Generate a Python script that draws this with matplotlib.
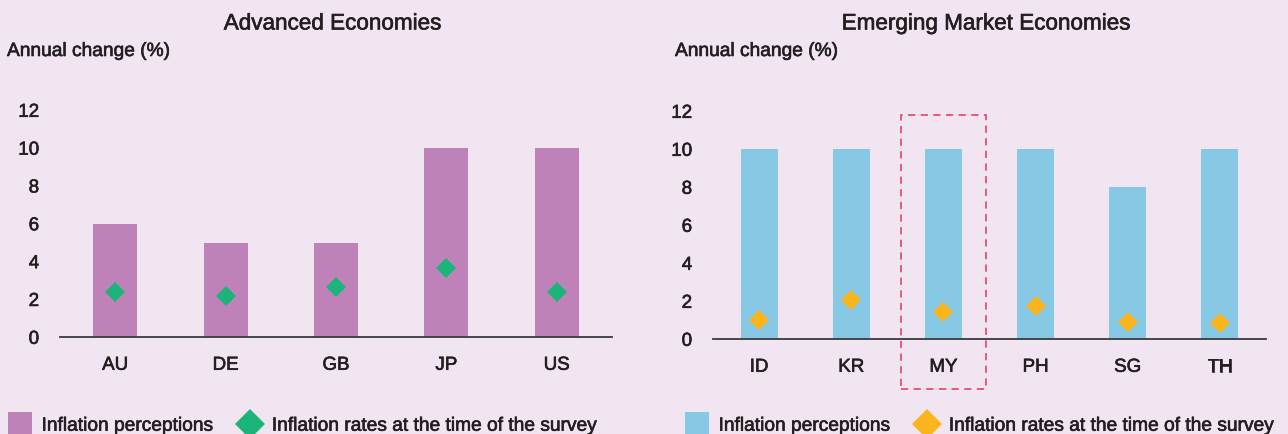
import matplotlib
matplotlib.use("Agg")
import matplotlib.pyplot as plt
from matplotlib.lines import Line2D
from matplotlib.patches import Rectangle
import matplotlib.patheffects as pe

plt.rcParams['font.family'] = ['Liberation Sans', 'DejaVu Sans']

# ---- data ----
adv_countries = ["AU", "DE", "GB", "JP", "US"]
adv_perceptions = [6, 5, 5, 10, 10]
adv_rates = [2.4, 2.2, 2.65, 3.65, 2.4]

em_countries = ["ID", "KR", "MY", "PH", "SG", "TH"]
em_perceptions = [10, 10, 10, 10, 8, 10]
em_rates = [1.0, 2.05, 1.45, 1.75, 0.9, 0.85]

yticks = [0, 2, 4, 6, 8, 10, 12]
highlight = "MY"

BG = '#F2E5F2'
PURPLE = '#BE82B9'
GREEN = '#1DB47A'
BLUE = '#87C8E5'
YELLOW = '#FBB61E'
RED = '#E8506A'
TXT = '#231F20'

FX = [pe.withStroke(linewidth=0.45, foreground=TXT)]

W, H = 1288, 434
fig = plt.figure(figsize=(W / 100, H / 100), dpi=100, facecolor=BG)

def make_panel(rect, cats, bars, rates, bar_color, mk_color, title, label_x, legend_x):
    ax = fig.add_axes(rect)
    ax.set_facecolor(BG)
    x = list(range(len(cats)))
    ax.bar(x, bars, width=0.4, color=bar_color, zorder=2)
    ax.plot(x, rates, linestyle='none', marker='D', markersize=10,
            color=mk_color, markeredgewidth=0, zorder=3)
    ax.set_xlim(-0.5, len(cats) - 0.5)
    ax.set_ylim(0, 12)
    ax.set_yticks(yticks)
    ax.set_xticks(x)
    ax.set_xticklabels(cats)
    for s in ['top', 'right', 'left']:
        ax.spines[s].set_visible(False)
    ax.spines['bottom'].set_color('#3a3a3a')
    ax.spines['bottom'].set_linewidth(1.3)
    ax.spines['bottom'].set_zorder(4)
    ax.tick_params(axis='both', length=0, labelsize=13.5, colors=TXT)
    ax.tick_params(axis='y', pad=15)
    ax.tick_params(axis='x', pad=14)
    for t in ax.get_xticklabels() + ax.get_yticklabels():
        t.set_path_effects(FX)
    # titles
    l, b, w, h = rect
    fig.text(l + w / 2 - 3 / W, 1 - 24 / H, title, ha='center', va='center',
             fontsize=16.2, color=TXT, path_effects=FX)
    fig.text(label_x / W, 1 - 51.5 / H, "Annual change (%)", ha='left',
             va='center', fontsize=13.8, color=TXT, path_effects=FX)
    handles = [
        Line2D([], [], linestyle='none', marker='s', markersize=17,
               color=bar_color, markeredgewidth=0),
        Line2D([], [], linestyle='none', marker='D', markersize=15,
               color=mk_color, markeredgewidth=0),
    ]
    leg = fig.legend(handles, ["Inflation perceptions", "Inflation rates at the time of the survey"],
                     loc='center left', bbox_to_anchor=(legend_x / W, 1 - 426 / H),
                     ncol=2, frameon=False, fontsize=13.8, handlelength=1.2,
                     handletextpad=0.55, columnspacing=1.35, borderpad=0,
                     borderaxespad=0, labelcolor=TXT)
    for t in leg.get_texts():
        t.set_path_effects(FX)
    return ax

ax1 = make_panel([60 / W, 1 - 337.3 / H, 552 / W, 227 / H], adv_countries,
                 adv_perceptions, adv_rates, PURPLE, GREEN, "Advanced Economies", 7, 8)
ax2 = make_panel([713 / W, 1 - 339.3 / H, 553 / W, 228 / H], em_countries,
                 em_perceptions, em_rates, BLUE, YELLOW, "Emerging Market Economies", 675, 685)

i = em_countries.index(highlight)
ax2.add_patch(Rectangle((i - 0.46, -2.6), 0.92, 14.4, fill=False,
                        edgecolor=RED, linestyle=(0, (4, 3)), linewidth=1.3,
                        clip_on=False, zorder=5))

fig.savefig("out.png", dpi=100, facecolor=BG)
